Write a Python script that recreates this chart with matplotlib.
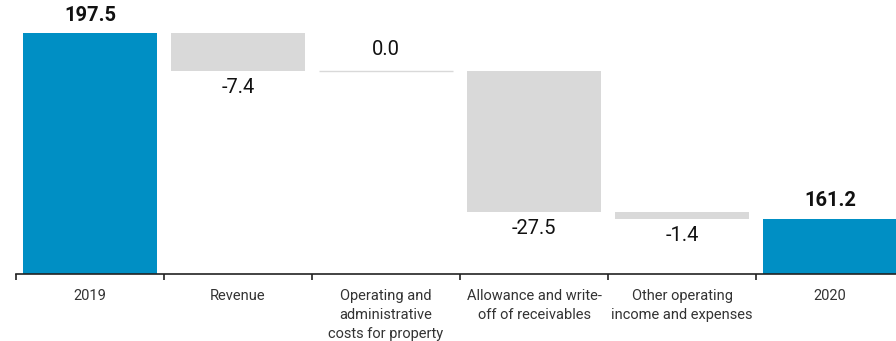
import matplotlib
matplotlib.use("Agg")
import matplotlib.pyplot as plt
import numpy as np

# waterfall data
categories = ["2019", "Revenue", "Operating and\nadministrative\ncosts for property",
              "Allowance and write-\noff of receivables", "Other operating\nincome and expenses", "2020"]
values = [197.5, -7.4, 0.0, -27.5, -1.4, 161.2]
is_total = [True, False, False, False, False, True]

blue = "#008fc4"
grey = "#d9d9d9"
plt.rcParams["font.family"] = ["Roboto", "DejaVu Sans"]

fig = plt.figure(figsize=(8.96, 3.41), dpi=100)
# axes runs a bit past the right edge, like the reference
ax = fig.add_axes([16 / 896, 67 / 341, 888 / 896, 274 / 341])
ymin, ymax = 150.4, 204.0

x = np.arange(len(values))
running = 0.0
for i, (v, tot) in enumerate(zip(values, is_total)):
    if tot:
        ax.bar(i, v - ymin, bottom=ymin, width=0.905, color=blue)
        running = v
        ax.annotate(f"{v:.1f}", (i, v), xytext=(0, 6), textcoords="offset points",
                    ha="center", va="bottom", fontsize=14.5, fontweight="bold", color="#111111")
        continue
    start = running
    end = running + v
    if v == 0:
        ax.hlines(start, i - 0.452, i + 0.452, color=grey, lw=1)
        ax.annotate(f"{v:.1f}", (i, start), xytext=(0, 9), textcoords="offset points",
                    ha="center", va="bottom", fontsize=14.5, color="#111111")
    else:
        ax.bar(i, start - end, bottom=end, width=0.905, color=grey)
        ax.annotate(f"{v:.1f}", (i, end), xytext=(0, -5), textcoords="offset points",
                    ha="center", va="top", fontsize=14.5, color="#111111")
    running = end

ax.set_xlim(-0.5, len(values) - 0.5)
ax.set_ylim(ymin, ymax)
ax.set_yticks([])
for s in ["top", "right", "left"]:
    ax.spines[s].set_visible(False)
ax.spines["bottom"].set_color("#222222")
ax.spines["bottom"].set_linewidth(1.2)

# boundary ticks, labels centred under the bars
ax.set_xticks(np.arange(-0.5, len(values) + 0.5, 1))
ax.set_xticklabels([])
ax.tick_params(axis="x", which="major", length=4, width=1.2, color="#222222")
ax.set_xticks(x, minor=True)
ax.set_xticklabels(categories, minor=True, fontsize=10.5, color="#333333", linespacing=1.42)
ax.tick_params(axis="x", which="minor", length=0, pad=11)

fig.savefig("out.png", dpi=100)
